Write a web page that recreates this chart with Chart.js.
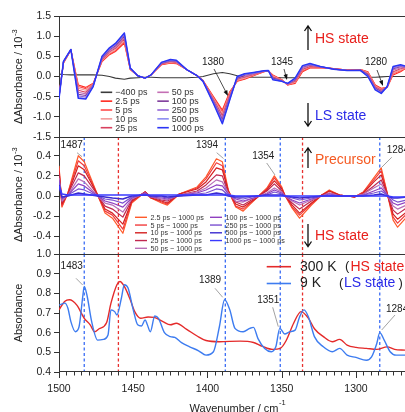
<!DOCTYPE html>
<html>
<head>
<meta charset="utf-8">
<script src="https://cdn.jsdelivr.net/npm/chart.js@4.4.1/dist/chart.umd.min.js"></script>
<style>
  html, body { margin: 0; padding: 0; background: #fff; overflow: hidden; }
  #wrap { position: relative; width: 405px; height: 412px; }
  #wrap canvas { position: absolute; left: 0; top: 0; }
</style>
</head>
<body>
<div id="wrap">
  <canvas id="panelDiff" width="405" height="412"></canvas>
  <canvas id="panelPrec" width="405" height="412"></canvas>
  <canvas id="panelAbs" width="405" height="412"></canvas>
</div>
<script>
// ---- top panel: transient difference spectra (10^-3) ----
const wnTop = [1500, 1497, 1492, 1487, 1482, 1477, 1471, 1466, 1462, 1456, 1452, 1447, 1442, 1438, 1431, 1425, 1421, 1414, 1407, 1403, 1396, 1390, 1385, 1380, 1375, 1369, 1362, 1359, 1356, 1350, 1346, 1341, 1336, 1331, 1324, 1315, 1306, 1297, 1292, 1287, 1283, 1279, 1275, 1270, 1266];
const topLabels = ['−400 ps', '2.5 ps', '5 ps', '10 ps', '25 ps', '50 ps', '100 ps', '250 ps', '500 ps', '1000 ps'];
const topM400 = [0.06, 0.05, 0.04, 0.04, 0.04, 0.04, 0.03, 0.0, -0.04, -0.07, -0.04, -0.03, -0.02, -0.02, -0.03, -0.03, -0.03, -0.03, -0.02, 0.0, 0.07, 0.1, 0.07, 0.02, -0.01, -0.02, -0.02, -0.02, -0.02, -0.03, -0.03, -0.03, -0.03, -0.03, -0.03, -0.03, -0.03, -0.03, -0.02, -0.02, -0.01, 0.0, 0.0, 0.0, 0.0];
const top2p5 = [-0.45, 0.33, 0.66, -0.21, -0.27, -0.17, 0.37, 0.54, 0.62, 0.83, 0.17, 0.02, -0.04, 0.04, 0.29, 0.33, 0.32, 0.17, 0.02, -0.10, -0.50, -0.83, -0.38, -0.12, -0.07, 0.02, 0.12, 0.14, 0.04, -0.08, -0.21, -0.17, 0.12, 0.21, 0.22, 0.20, 0.16, 0.17, 0.12, -0.21, -0.29, -0.27, 0.04, 0.12, 0.21];
const top5 = [-0.46, 0.34, 0.66, -0.25, -0.30, -0.18, 0.39, 0.56, 0.64, 0.86, 0.17, 0.02, -0.04, 0.04, 0.30, 0.34, 0.33, 0.17, 0.02, -0.10, -0.52, -0.87, -0.40, -0.11, -0.05, 0.03, 0.12, 0.14, 0.03, -0.08, -0.21, -0.15, 0.14, 0.22, 0.22, 0.20, 0.16, 0.17, 0.11, -0.22, -0.31, -0.27, 0.07, 0.14, 0.21];
const top10 = [-0.48, 0.34, 0.66, -0.29, -0.34, -0.19, 0.40, 0.58, 0.67, 0.89, 0.18, 0.02, -0.04, 0.04, 0.31, 0.35, 0.34, 0.17, 0.02, -0.11, -0.54, -0.92, -0.43, -0.09, -0.04, 0.04, 0.13, 0.14, 0.01, -0.09, -0.20, -0.14, 0.16, 0.24, 0.23, 0.20, 0.16, 0.17, 0.09, -0.24, -0.32, -0.27, 0.09, 0.16, 0.22];
const top25 = [-0.49, 0.35, 0.66, -0.34, -0.39, -0.20, 0.42, 0.61, 0.70, 0.93, 0.19, 0.02, -0.04, 0.04, 0.31, 0.37, 0.35, 0.17, 0.02, -0.11, -0.57, -0.97, -0.46, -0.07, -0.01, 0.05, 0.13, 0.14, -0.01, -0.10, -0.19, -0.12, 0.18, 0.25, 0.23, 0.19, 0.16, 0.16, 0.07, -0.26, -0.34, -0.26, 0.12, 0.19, 0.23];
const top50 = [-0.51, 0.35, 0.67, -0.39, -0.43, -0.21, 0.44, 0.63, 0.73, 0.97, 0.19, 0.02, -0.04, 0.04, 0.32, 0.38, 0.36, 0.17, 0.02, -0.11, -0.59, -1.02, -0.49, -0.05, 0.0, 0.06, 0.13, 0.15, -0.03, -0.10, -0.19, -0.10, 0.20, 0.27, 0.24, 0.19, 0.15, 0.16, 0.05, -0.28, -0.36, -0.26, 0.16, 0.21, 0.23];
const top100 = [-0.52, 0.36, 0.67, -0.44, -0.47, -0.23, 0.46, 0.66, 0.76, 1.01, 0.20, 0.02, -0.04, 0.04, 0.33, 0.39, 0.38, 0.17, 0.02, -0.11, -0.62, -1.07, -0.52, -0.04, 0.03, 0.08, 0.13, 0.15, -0.04, -0.11, -0.18, -0.08, 0.23, 0.29, 0.24, 0.19, 0.15, 0.16, 0.04, -0.29, -0.38, -0.26, 0.19, 0.24, 0.24];
const top250 = [-0.53, 0.37, 0.67, -0.48, -0.51, -0.24, 0.48, 0.68, 0.79, 1.04, 0.20, 0.02, -0.04, 0.04, 0.34, 0.40, 0.39, 0.17, 0.02, -0.12, -0.64, -1.11, -0.55, -0.02, 0.05, 0.09, 0.14, 0.15, -0.06, -0.11, -0.18, -0.06, 0.24, 0.30, 0.24, 0.18, 0.15, 0.15, 0.02, -0.31, -0.40, -0.25, 0.21, 0.26, 0.24];
const top500 = [-0.54, 0.37, 0.67, -0.52, -0.54, -0.24, 0.49, 0.70, 0.81, 1.06, 0.21, 0.02, -0.04, 0.04, 0.35, 0.41, 0.39, 0.17, 0.02, -0.12, -0.66, -1.15, -0.57, -0.01, 0.06, 0.09, 0.14, 0.15, -0.07, -0.12, -0.17, -0.05, 0.26, 0.31, 0.25, 0.18, 0.15, 0.15, 0.01, -0.32, -0.41, -0.25, 0.24, 0.28, 0.25];
const top1000 = [-0.55, 0.375, 0.67, -0.54, -0.56, -0.25, 0.5, 0.71, 0.82, 1.08, 0.21, 0.02, -0.04, 0.04, 0.35, 0.42, 0.40, 0.17, 0.02, -0.12, -0.67, -1.17, -0.58, 0.0, 0.07, 0.10, 0.14, 0.15, -0.08, -0.12, -0.17, -0.04, 0.27, 0.32, 0.25, 0.18, 0.15, 0.15, 0.0, -0.33, -0.42, -0.25, 0.25, 0.29, 0.25];

// ---- middle panel: precursor spectra (10^-3) ----
const wnMid = [1500, 1498, 1494, 1487, 1483, 1474, 1469, 1464, 1457, 1451, 1442, 1438, 1431, 1427, 1419, 1407, 1401, 1394, 1390, 1386, 1381, 1376, 1367, 1360, 1355, 1350, 1348, 1343, 1338, 1330, 1323, 1318, 1311, 1301, 1295, 1288, 1283, 1279, 1275, 1272, 1266];
const midLabels = ['2.5 ps − 1000 ps', '5 ps − 1000 ps', '10 ps − 1000 ps', '25 ps − 1000 ps', '50 ps − 1000 ps', '100 ps − 1000 ps', '250 ps − 1000 ps', '500 ps − 1000 ps', '1000 ps − 1000 ps'];
const mid2p5 = [0.30, -0.11, 0.03, 0.40, 0.34, 0.01, -0.17, -0.22, -0.37, -0.07, 0.04, -0.02, -0.07, -0.09, 0.02, 0.09, 0.19, 0.37, 0.34, 0.06, -0.11, -0.15, -0.02, 0.08, 0.20, 0.09, 0.01, -0.12, -0.22, -0.09, 0.01, 0.06, 0.01, -0.01, 0.04, 0.18, 0.28, 0.03, -0.24, -0.31, -0.21];
const mid5 = [0.28, -0.10, 0.03, 0.35, 0.30, 0.01, -0.15, -0.19, -0.33, -0.06, 0.04, -0.02, -0.06, -0.08, 0.02, 0.08, 0.17, 0.33, 0.30, 0.05, -0.10, -0.13, -0.02, 0.07, 0.18, 0.08, 0.01, -0.11, -0.19, -0.08, 0.01, 0.05, 0.01, -0.01, 0.04, 0.16, 0.25, 0.03, -0.21, -0.27, -0.18];
const mid10 = [0.25, -0.08, 0.02, 0.30, 0.26, 0.01, -0.13, -0.17, -0.28, -0.05, 0.04, -0.02, -0.05, -0.07, 0.02, 0.07, 0.14, 0.28, 0.26, 0.05, -0.08, -0.11, -0.02, 0.06, 0.15, 0.07, 0.01, -0.09, -0.17, -0.07, 0.01, 0.05, 0.01, -0.01, 0.03, 0.14, 0.21, 0.02, -0.18, -0.23, -0.16];
const mid25 = [0.22, -0.06, 0.02, 0.23, 0.20, 0.01, -0.10, -0.13, -0.21, -0.04, 0.04, -0.01, -0.04, -0.05, 0.01, 0.05, 0.11, 0.21, 0.20, 0.03, -0.06, -0.09, -0.01, 0.05, 0.12, 0.05, 0.01, -0.07, -0.13, -0.05, 0.01, 0.03, 0.01, -0.01, 0.02, 0.10, 0.16, 0.02, -0.14, -0.18, -0.12];
const mid50 = [0.18, -0.05, 0.01, 0.17, 0.14, 0.0, -0.07, -0.09, -0.16, -0.03, 0.03, -0.01, -0.03, -0.04, 0.01, 0.04, 0.08, 0.16, 0.14, 0.03, -0.05, -0.06, -0.01, 0.03, 0.08, 0.04, 0.0, -0.05, -0.09, -0.04, 0.0, 0.03, 0.0, 0.0, 0.02, 0.08, 0.12, 0.01, -0.10, -0.13, -0.09];
const mid100 = [0.16, -0.03, 0.01, 0.12, 0.10, 0.0, -0.05, -0.07, -0.11, -0.02, 0.03, -0.01, -0.02, -0.03, 0.01, 0.03, 0.06, 0.11, 0.10, 0.02, -0.03, -0.05, -0.01, 0.02, 0.06, 0.03, 0.0, -0.04, -0.07, -0.03, 0.0, 0.02, 0.0, 0.0, 0.01, 0.05, 0.08, 0.01, -0.07, -0.09, -0.06];
const mid250 = [0.14, -0.02, 0.01, 0.07, 0.06, 0.0, -0.03, -0.04, -0.07, -0.01, 0.02, 0.0, -0.01, -0.02, 0.0, 0.02, 0.03, 0.07, 0.06, 0.01, -0.02, -0.03, 0.0, 0.01, 0.04, 0.02, 0.0, -0.02, -0.04, -0.02, 0.0, 0.01, 0.0, 0.0, 0.01, 0.03, 0.05, 0.01, -0.04, -0.06, -0.04];
const mid500 = [0.11, -0.01, 0.0, 0.03, 0.02, 0.0, -0.01, -0.02, -0.03, 0.0, 0.01, 0.0, 0.0, -0.01, 0.0, 0.01, 0.01, 0.03, 0.02, 0.0, -0.01, -0.01, 0.0, 0.01, 0.01, 0.01, 0.0, -0.01, -0.02, -0.01, 0.0, 0.0, 0.0, 0.0, 0.0, 0.01, 0.02, 0.0, -0.02, -0.02, -0.01];
const mid1000 = [0.10, 0.02, 0.01, 0.01, 0.01, 0.01, 0.01, 0.01, 0.01, 0.01, 0.01, 0.01, 0.01, 0.01, 0.01, 0.01, 0.01, 0.01, 0.01, 0.01, 0, 0, 0, 0, 0, 0, 0, 0, 0, 0, 0, 0, 0, 0, 0, 0, 0, 0, -0.01, -0.01, -0.01];

// ---- bottom panel: steady-state absorbance ----
const absLabels = ['300 K', '9 K'];
const absStates = ['HS state', 'LS state'];
const wnHot = [1500, 1496, 1493, 1488, 1483, 1479, 1476, 1473, 1468, 1465, 1461, 1459, 1456, 1452, 1449, 1445, 1440, 1436, 1430, 1425, 1421, 1414, 1407, 1401, 1392, 1378, 1369, 1363, 1356, 1351, 1347, 1342, 1337, 1332, 1328, 1322, 1316, 1311, 1306, 1300, 1293, 1286, 1279, 1274, 1267];
const abs300K = [0.716, 0.76, 0.767, 0.74, 0.673, 0.64, 0.605, 0.62, 0.65, 0.75, 0.844, 0.86, 0.835, 0.767, 0.707, 0.673, 0.68, 0.678, 0.656, 0.64, 0.648, 0.617, 0.583, 0.56, 0.554, 0.557, 0.55, 0.53, 0.515, 0.52, 0.56, 0.648, 0.707, 0.673, 0.62, 0.58, 0.554, 0.566, 0.537, 0.525, 0.52, 0.515, 0.528, 0.515, 0.511];
const wnCold = [1500, 1496, 1494, 1492, 1489, 1486.5, 1484, 1483, 1481, 1478, 1474, 1470, 1467, 1465, 1462.5, 1461, 1458, 1456, 1453.5, 1450, 1447, 1444.5, 1442, 1440.5, 1438.5, 1435.5, 1433, 1429, 1425, 1422, 1417.5, 1412, 1406, 1401, 1396, 1392, 1388.5, 1385, 1381.5, 1376, 1371.5, 1369, 1366, 1361.5, 1357, 1354, 1351.3, 1348, 1344.5, 1341, 1338, 1335, 1332, 1328, 1322, 1316, 1311, 1306, 1300, 1293, 1289.5, 1286, 1284, 1281, 1277, 1273, 1267];
const abs9K = [0.74, 0.75, 0.724, 0.656, 0.605, 0.63, 0.784, 0.835, 0.784, 0.656, 0.562, 0.566, 0.588, 0.716, 0.707, 0.69, 0.775, 0.844, 0.827, 0.716, 0.64, 0.634, 0.665, 0.64, 0.605, 0.685, 0.673, 0.6, 0.58, 0.576, 0.549, 0.528, 0.508, 0.486, 0.503, 0.63, 0.767, 0.716, 0.622, 0.605, 0.622, 0.627, 0.57, 0.52, 0.503, 0.528, 0.622, 0.593, 0.605, 0.613, 0.68, 0.716, 0.68, 0.58, 0.528, 0.503, 0.52, 0.486, 0.474, 0.46, 0.477, 0.545, 0.6, 0.562, 0.503, 0.486, 0.486];

// dashed guide lines (cm-1)
const markersLS = [1483, 1388, 1351, 1284];
const markersHS = [1460, 1336];

// ---- style ----
const FONT = '"Liberation Sans", Arial, Helvetica, sans-serif';
const AXIS_COLOR = '#333';
const PLOT_LEFT = 59;
const WN_MIN = 1267;
const WN_MAX = 1500;
const TOP_COLORS = ['#3a3a3a', '#ff2a1f', '#ff4d4d', '#f29a9a', '#d8405e', '#c46fb4', '#7d3a9a', '#9464d6', '#8c8cf2', '#2b35f5'];
const MID_COLORS = ['#ff5a2a', '#f23c3c', '#d42020', '#c02850', '#b870b8', '#9040c0', '#7a50d0', '#3a2ad0', '#3a3aff'];
const RED = '#e42a2a';
const BLUE = '#3d7cf0';
const STATE_RED = '#e8201c';
const STATE_BLUE = '#2a2ae8';

Chart.defaults.font.family = FONT;
Chart.defaults.font.size = 10.5;
Chart.defaults.color = '#222';

function toPoints(xs, ys) {
  return ys.map((y, i) => ({ x: xs[i], y }));
}

function xScale(show) {
  const scale = {
    type: 'linear',
    min: WN_MIN,
    max: WN_MAX,
    reverse: true,
    display: show,
    grid: { display: false, drawTicks: false },
    border: { display: false },
    ticks: {
      stepSize: 50,
      includeBounds: false,
      autoSkip: false,
      maxRotation: 0,
      padding: 10.7,
      color: '#222',
      callback: (v) => String(v),
    },
  };
  if (show) scale.afterFit = (s) => { s.height = 40; };
  return scale;
}

function yScale(min, max, step) {
  return {
    min,
    max,
    grid: { drawOnChartArea: false, drawTicks: true, tickLength: 5, color: AXIS_COLOR, lineWidth: 1 },
    border: { display: true, color: AXIS_COLOR, width: 1 },
    ticks: {
      stepSize: step,
      includeBounds: false,
      autoSkip: false,
      padding: 3,
      color: '#222',
      callback: (v) => Number(v).toFixed(1),
    },
    afterFit: (s) => { s.width = PLOT_LEFT; },
  };
}

function baseOptions(top, bottom, showX, y) {
  return {
    responsive: false,
    animation: false,
    events: [],
    layout: { padding: { left: 0, right: 0, top, bottom } },
    elements: { point: { radius: 0 }, line: { tension: 0, borderJoinStyle: 'round', fill: false } },
    scales: { x: xScale(showX), y },
    plugins: { legend: { display: false }, tooltip: { enabled: false } },
  };
}

// ---- drawing helpers ----
function hLine(ctx, x1, x2, y) {
  ctx.beginPath();
  ctx.moveTo(x1, y);
  ctx.lineTo(x2, y);
  ctx.stroke();
}

function drawFrame(chart, withBottom) {
  const { ctx, chartArea: a } = chart;
  ctx.save();
  ctx.strokeStyle = AXIS_COLOR;
  ctx.lineWidth = 1;
  hLine(ctx, a.left, a.right, Math.round(a.top) + 0.5);
  if (withBottom) hLine(ctx, a.left, a.right, Math.round(a.bottom) - 0.5);
  ctx.restore();
}

function drawMarkers(chart) {
  const { ctx, chartArea: a, scales } = chart;
  ctx.save();
  ctx.lineWidth = 1.3;
  ctx.setLineDash([3, 2.5]);
  const draw = (wn, color) => {
    const x = scales.x.getPixelForValue(wn);
    ctx.strokeStyle = color;
    ctx.beginPath();
    ctx.moveTo(x, a.top);
    ctx.lineTo(x, a.bottom);
    ctx.stroke();
  };
  markersLS.forEach((wn) => draw(wn, '#3a6cf4'));
  markersHS.forEach((wn) => draw(wn, '#e8312f'));
  ctx.restore();
}

function drawLegend(chart, cfg) {
  const { ctx } = chart;
  ctx.save();
  ctx.font = `${cfg.size}px ${FONT}`;
  ctx.textBaseline = 'middle';
  ctx.textAlign = 'left';
  chart.data.datasets.forEach((ds, i) => {
    const col = Math.floor(i / cfg.rows);
    const row = i % cfg.rows;
    const x = cfg.cols[col];
    const y = cfg.y0 + row * cfg.dy;
    ctx.strokeStyle = ds.borderColor;
    ctx.lineWidth = cfg.lineWidth;
    hLine(ctx, x, x + cfg.lineLen, y);
    ctx.fillStyle = '#333';
    ctx.fillText(ds.label, x + cfg.lineLen + cfg.gap, y + 0.5);
  });
  ctx.restore();
}

function drawText(ctx, text, x, y, opts = {}) {
  ctx.save();
  ctx.font = `${opts.size || 10}px ${FONT}`;
  ctx.fillStyle = opts.color || '#222';
  ctx.textAlign = opts.align || 'center';
  ctx.textBaseline = 'middle';
  ctx.fillText(text, x, y);
  ctx.restore();
}

function pointerArrow(ctx, x1, y1, x2, y2) {
  const ang = Math.atan2(y2 - y1, x2 - x1);
  const head = 6;
  ctx.save();
  ctx.strokeStyle = '#222';
  ctx.fillStyle = '#111';
  ctx.lineWidth = 0.8;
  ctx.beginPath();
  ctx.moveTo(x1, y1);
  ctx.lineTo(x2 - Math.cos(ang) * head * 0.7, y2 - Math.sin(ang) * head * 0.7);
  ctx.stroke();
  ctx.beginPath();
  ctx.moveTo(x2, y2);
  ctx.lineTo(x2 - head * Math.cos(ang - 0.35), y2 - head * Math.sin(ang - 0.35));
  ctx.lineTo(x2 - head * Math.cos(ang + 0.35), y2 - head * Math.sin(ang + 0.35));
  ctx.closePath();
  ctx.fill();
  ctx.restore();
}

function leader(ctx, x1, y1, x2, y2) {
  ctx.save();
  ctx.strokeStyle = '#8a8a8a';
  ctx.lineWidth = 0.8;
  ctx.beginPath();
  ctx.moveTo(x1, y1);
  ctx.lineTo(x2, y2);
  ctx.stroke();
  ctx.restore();
}

function stateArrow(ctx, x, yTail, yHead) {
  const dir = yHead < yTail ? 1 : -1;
  ctx.save();
  ctx.strokeStyle = '#111';
  ctx.lineWidth = 1.3;
  ctx.beginPath();
  ctx.moveTo(x, yTail);
  ctx.lineTo(x, yHead);
  ctx.moveTo(x - 3.5, yHead + dir * 5);
  ctx.lineTo(x, yHead);
  ctx.lineTo(x + 3.5, yHead + dir * 5);
  ctx.stroke();
  ctx.restore();
}

function drawYTitle(ctx, cx, cy, main, sup) {
  ctx.save();
  ctx.translate(cx, cy);
  ctx.rotate(-Math.PI / 2);
  ctx.fillStyle = '#222';
  ctx.textBaseline = 'middle';
  ctx.textAlign = 'left';
  ctx.font = `11px ${FONT}`;
  const wMain = ctx.measureText(main).width;
  ctx.font = `7.5px ${FONT}`;
  const wSup = sup ? ctx.measureText(sup).width : 0;
  const start = -(wMain + wSup) / 2;
  ctx.font = `11px ${FONT}`;
  ctx.fillText(main, start, 0);
  if (sup) {
    ctx.font = `7.5px ${FONT}`;
    ctx.fillText(sup, start + wMain + 0.5, -4.5);
  }
  ctx.restore();
}

function drawXTicks(chart) {
  const { ctx, chartArea: a, scales } = chart;
  ctx.save();
  ctx.strokeStyle = AXIS_COLOR;
  ctx.lineWidth = 1;
  for (let wn = 1270; wn <= WN_MAX; wn += 5) {
    const x = Math.round(scales.x.getPixelForValue(wn)) + 0.5;
    const len = wn % 50 === 0 ? 6 : 3.5;
    ctx.beginPath();
    ctx.moveTo(x, a.bottom);
    ctx.lineTo(x, a.bottom + len);
    ctx.stroke();
  }
  ctx.restore();
}

function drawXTitle(ctx) {
  ctx.save();
  ctx.fillStyle = '#222';
  ctx.textBaseline = 'alphabetic';
  ctx.textAlign = 'left';
  ctx.font = `11px ${FONT}`;
  const main = 'Wavenumber / cm';
  const w = ctx.measureText(main).width;
  const x0 = 234 - w / 2;
  ctx.fillText(main, x0, 411.5);
  ctx.font = `7.5px ${FONT}`;
  ctx.fillText('-1', x0 + w + 0.5, 405);
  ctx.restore();
}

// ---- panel decorations ----
const topDecor = {
  id: 'topDecor',
  afterDatasetsDraw(chart) {
    const { ctx } = chart;
    drawFrame(chart, false);
    drawLegend(chart, { cols: [100.7, 157.3], rows: 5, y0: 92.3, dy: 8.85, lineLen: 11.5, gap: 3, size: 9, lineWidth: 1.6 });
    drawText(ctx, '1380', 213, 62);
    pointerArrow(ctx, 214, 69, 228, 96);
    drawText(ctx, '1345', 282, 62);
    pointerArrow(ctx, 284, 69, 287, 80);
    drawText(ctx, '1280', 376, 62);
    pointerArrow(ctx, 377, 70, 383, 86);
    stateArrow(ctx, 308, 50, 26);
    drawText(ctx, 'HS state', 315, 39, { size: 14, color: STATE_RED, align: 'left' });
    stateArrow(ctx, 308, 103, 126);
    drawText(ctx, 'LS state', 315, 116, { size: 14, color: STATE_BLUE, align: 'left' });
    drawYTitle(ctx, 19, 77, 'ΔAbsorbance / 10', '-3');
  },
};

const midDecor = {
  id: 'midDecor',
  beforeDatasetsDraw(chart) {
    drawMarkers(chart);
  },
  afterDatasetsDraw(chart) {
    const { ctx } = chart;
    drawFrame(chart, false);
    drawLegend(chart, { cols: [135, 210], rows: 5, y0: 217.3, dy: 7.75, lineLen: 12, gap: 3.5, size: 7.2, lineWidth: 1.4 });
    drawText(ctx, '1487', 71.7, 145);
    leader(ctx, 77, 152.7, 82, 156.7);
    drawText(ctx, '1394', 207, 145);
    leader(ctx, 216.7, 152.7, 223.5, 158.5);
    drawText(ctx, '1354', 263.3, 156);
    leader(ctx, 266.7, 163, 275, 175);
    drawText(ctx, '1284', 386.7, 150.7, { align: 'left' });
    leader(ctx, 391.7, 157.3, 381.7, 167.3);
    stateArrow(ctx, 308, 168, 148);
    drawText(ctx, 'Precursor', 315, 160, { size: 14, color: '#f55a22', align: 'left' });
    stateArrow(ctx, 308, 224, 246.5);
    drawText(ctx, 'HS state', 315, 236, { size: 14, color: STATE_RED, align: 'left' });
    drawYTitle(ctx, 19, 195, 'ΔAbsorbance / 10', '-3');
  },
};

const absDecor = {
  id: 'absDecor',
  beforeDatasetsDraw(chart) {
    drawMarkers(chart);
  },
  afterDatasetsDraw(chart) {
    const { ctx } = chart;
    drawFrame(chart, true);
    drawXTicks(chart);
    // legend
    const rowsY = [266.7, 283.5];
    chart.data.datasets.forEach((ds, i) => {
      ctx.save();
      ctx.strokeStyle = ds.borderColor;
      ctx.lineWidth = 1.6;
      hLine(ctx, 266.7, 291, rowsY[i]);
      ctx.restore();
      drawText(ctx, ds.label, 300, rowsY[i], { size: 14, color: '#222', align: 'left' });
    });
    drawText(ctx, '(', 345, 266.7, { size: 13, align: 'left' });
    drawText(ctx, absStates[0], 350.5, 266.7, { size: 14, color: STATE_RED, align: 'left' });
    drawText(ctx, ')', 405, 266.7, { size: 13, align: 'left' });
    drawText(ctx, '(', 339, 283.5, { size: 13, align: 'left' });
    drawText(ctx, absStates[1], 344, 283.5, { size: 14, color: STATE_BLUE, align: 'left' });
    drawText(ctx, ')', 398.5, 283.5, { size: 13, align: 'left' });
    // peak labels
    drawText(ctx, '1483', 71.7, 266.7);
    leader(ctx, 76, 278.3, 82.7, 285);
    drawText(ctx, '1389', 210, 280);
    leader(ctx, 215, 288.3, 222.7, 297.3);
    drawText(ctx, '1351', 268.3, 300.7);
    leader(ctx, 272.7, 307.3, 278.3, 326.7);
    drawText(ctx, '1284', 386, 309.3, { align: 'left' });
    leader(ctx, 395, 315, 381.7, 330);
    drawYTitle(ctx, 19, 313, 'Absorbance', '');
    drawXTitle(ctx);
  },
};

// ---- charts ----
function buildTopPanel() {
  const series = [topM400, top2p5, top5, top10, top25, top50, top100, top250, top500, top1000];
  new Chart(document.getElementById('panelDiff'), {
    type: 'line',
    data: {
      datasets: series.map((values, i) => ({
        label: topLabels[i],
        data: toPoints(wnTop, values),
        borderColor: TOP_COLORS[i],
        borderWidth: i === 9 ? 1.5 : 1.1,
        order: series.length - i,
      })),
    },
    options: baseOptions(16, 275, false, yScale(-1.5, 1.5, 0.5)),
    plugins: [topDecor],
  });
}

function buildMidPanel() {
  const series = [mid2p5, mid5, mid10, mid25, mid50, mid100, mid250, mid500, mid1000];
  new Chart(document.getElementById('panelPrec'), {
    type: 'line',
    data: {
      datasets: series.map((values, i) => ({
        label: midLabels[i],
        data: toPoints(wnMid, values),
        borderColor: MID_COLORS[i],
        borderWidth: i >= 7 ? 1.6 : 1.2,
        order: series.length - i,
      })),
    },
    options: baseOptions(137, 158, false, yScale(-0.576, 0.586, 0.2)),
    plugins: [midDecor],
  });
}

function buildAbsPanel() {
  const opts = baseOptions(254, 0, true, yScale(0.4, 1.0, 0.1));
  opts.elements.line.cubicInterpolationMode = 'monotone';
  new Chart(document.getElementById('panelAbs'), {
    type: 'line',
    data: {
      datasets: [
        { label: absLabels[0], data: toPoints(wnHot, abs300K), borderColor: RED, borderWidth: 1.4, order: 2 },
        { label: absLabels[1], data: toPoints(wnCold, abs9K), borderColor: BLUE, borderWidth: 1.4, order: 1 },
      ],
    },
    options: opts,
    plugins: [absDecor],
  });
}

buildTopPanel();
buildMidPanel();
buildAbsPanel();
</script>
</body>
</html>
